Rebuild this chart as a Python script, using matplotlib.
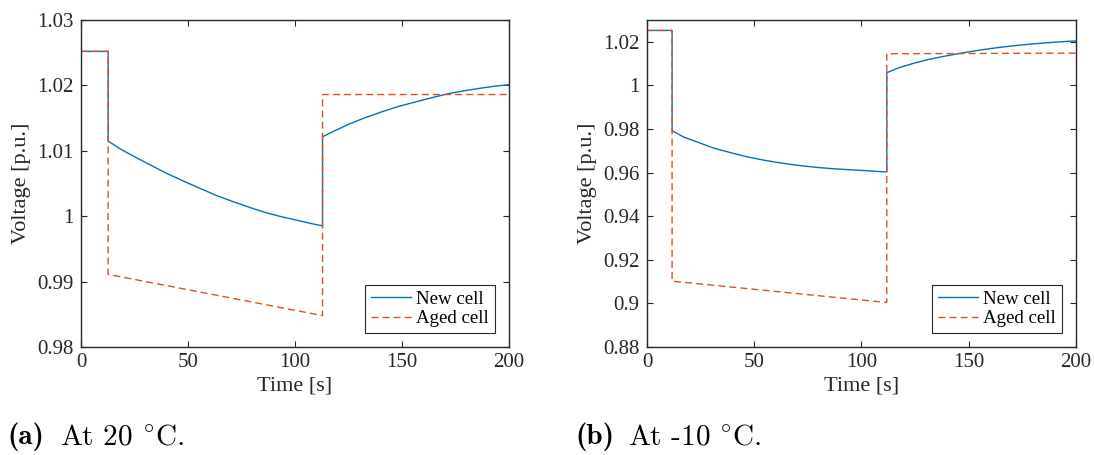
import matplotlib
matplotlib.use("Agg")
from matplotlib import pyplot as plt
from matplotlib.ticker import FuncFormatter

# panel (a): 20 degC
t_new_a = [0, 12.7, 12.7, 18.0, 24.4, 32.0, 40.0, 48.0, 55.6, 63.0, 71.2, 79.0,
           86.8, 94.5, 102.3, 107.5, 112.9,
           112.9, 118.5, 124.9, 132.5, 140.5, 148.0, 156.1, 164.0, 171.6,
           179.5, 187.2, 193.5, 200]
v_new_a = [1.0252, 1.0252, 1.0115, 1.01035, 1.0092, 1.0079, 1.00655, 1.00535,
           1.00426, 1.0032, 1.00221, 1.00132, 1.0005, 0.99985, 0.99928, 0.99888,
           0.99852,
           1.01214, 1.01305, 1.01403, 1.01502, 1.01595, 1.01674, 1.01745, 1.01812,
           1.01873, 1.0192, 1.01959, 1.01988, 1.0201]
t_aged_a = [0, 12.7, 12.7, 112.9, 112.9, 200]
v_aged_a = [1.0252, 1.0252, 0.9911, 0.9848, 1.0186, 1.0186]

# panel (b): -10 degC
t_new_b = [0, 11.7, 11.7, 17.0, 23.9, 31.0, 39.5, 47.0, 55.0, 62.5, 70.5, 78.0,
           86.1, 94.0, 101.6, 106.5, 111.8,
           111.8, 117.5, 124.2, 131.5, 139.7, 147.5, 155.2, 163.0, 170.8,
           178.5, 186.3, 193.0, 200]
v_new_b = [1.0252, 1.0252, 0.9792, 0.97635, 0.97386, 0.97125, 0.969, 0.96715,
           0.9656, 0.9644, 0.9633, 0.9625, 0.9618, 0.96133, 0.9609, 0.96058, 0.9603,
           1.0058, 1.0081, 1.0101, 1.01195, 1.01357, 1.01496, 1.01619, 1.01725,
           1.01816, 1.01891, 1.01954, 1.02002, 1.0204]
t_aged_b = [0, 11.7, 11.7, 111.8, 111.8, 200]
v_aged_b = [1.0252, 1.0252, 0.9102, 0.9004, 1.0145, 1.0148]

legend_labels = ['New cell', 'Aged cell']
caption_tags = ['(a)', '(b)']
caption_texts = [r'At 20 $^{\circ}$C.', r'At -10 $^{\circ}$C.']

blue = '#0072BD'
orange = '#D95319'
axc = '#262626'

plt.rcParams['font.family'] = ['Liberation Serif', 'DejaVu Serif']
plt.rcParams['mathtext.fontset'] = 'cm'

fig = plt.figure(figsize=(10.94, 4.55), dpi=100)
ax1 = fig.add_axes([0.074, 0.2374, 0.3912, 0.7187])
ax2 = fig.add_axes([0.5914, 0.2374, 0.3921, 0.7187])

panels = [
    (ax1, t_new_a, v_new_a, t_aged_a, v_aged_a, (0.98, 1.03), [0.98, 0.99, 1.0, 1.01, 1.02, 1.03]),
    (ax2, t_new_b, v_new_b, t_aged_b, v_aged_b, (0.88, 1.03), [0.88, 0.90, 0.92, 0.94, 0.96, 0.98, 1.0, 1.02]),
]

for ax, tn, vn, ta, va, ylim, yticks in panels:
    ax.plot(tn, vn, color=blue, lw=1.0, label=legend_labels[0])
    ax.plot(ta, va, color=orange, lw=1.0, dashes=(5, 3), label=legend_labels[1])
    ax.set_xlim(0, 200)
    ax.set_ylim(*ylim)
    ax.set_xticks([0, 50, 100, 150, 200])
    ax.set_yticks(yticks)
    ax.yaxis.set_major_formatter(FuncFormatter(lambda v, p: '{:g}'.format(round(v, 4))))
    ax.tick_params(direction='in', length=4, width=0.8, colors=axc, labelsize=15,
                   top=True, right=True)
    ax.tick_params(axis='y', pad=5.5)
    ax.tick_params(axis='x', pad=4.5)
    for s in ax.spines.values():
        s.set_color(axc)
        s.set_linewidth(1.0)
    ax.set_xlabel('Time [s]', fontsize=16, color=axc, labelpad=3)
    ax.set_ylabel('Voltage [p.u.]', fontsize=16, color=axc, labelpad=4)
    leg = ax.legend(loc='lower right', fontsize=13.6, fancybox=False, framealpha=1,
                    edgecolor='#262626', labelspacing=0.1, borderpad=0.3,
                    handlelength=2.1, handletextpad=0.3, borderaxespad=0.75)
    leg.get_frame().set_linewidth(0.8)

# captions under each panel
cap_y = 0.024
fig.text(0.0064, cap_y, caption_tags[0], fontsize=21, family='cmb10', va='baseline')
fig.text(0.0548, cap_y, caption_texts[0], fontsize=21, family='cmr10', va='baseline')
fig.text(0.5256, cap_y, caption_tags[1], fontsize=21, family='cmb10', va='baseline')
fig.text(0.574, cap_y, caption_texts[1], fontsize=21, family='cmr10', va='baseline')

fig.savefig('out.png', dpi=100)
